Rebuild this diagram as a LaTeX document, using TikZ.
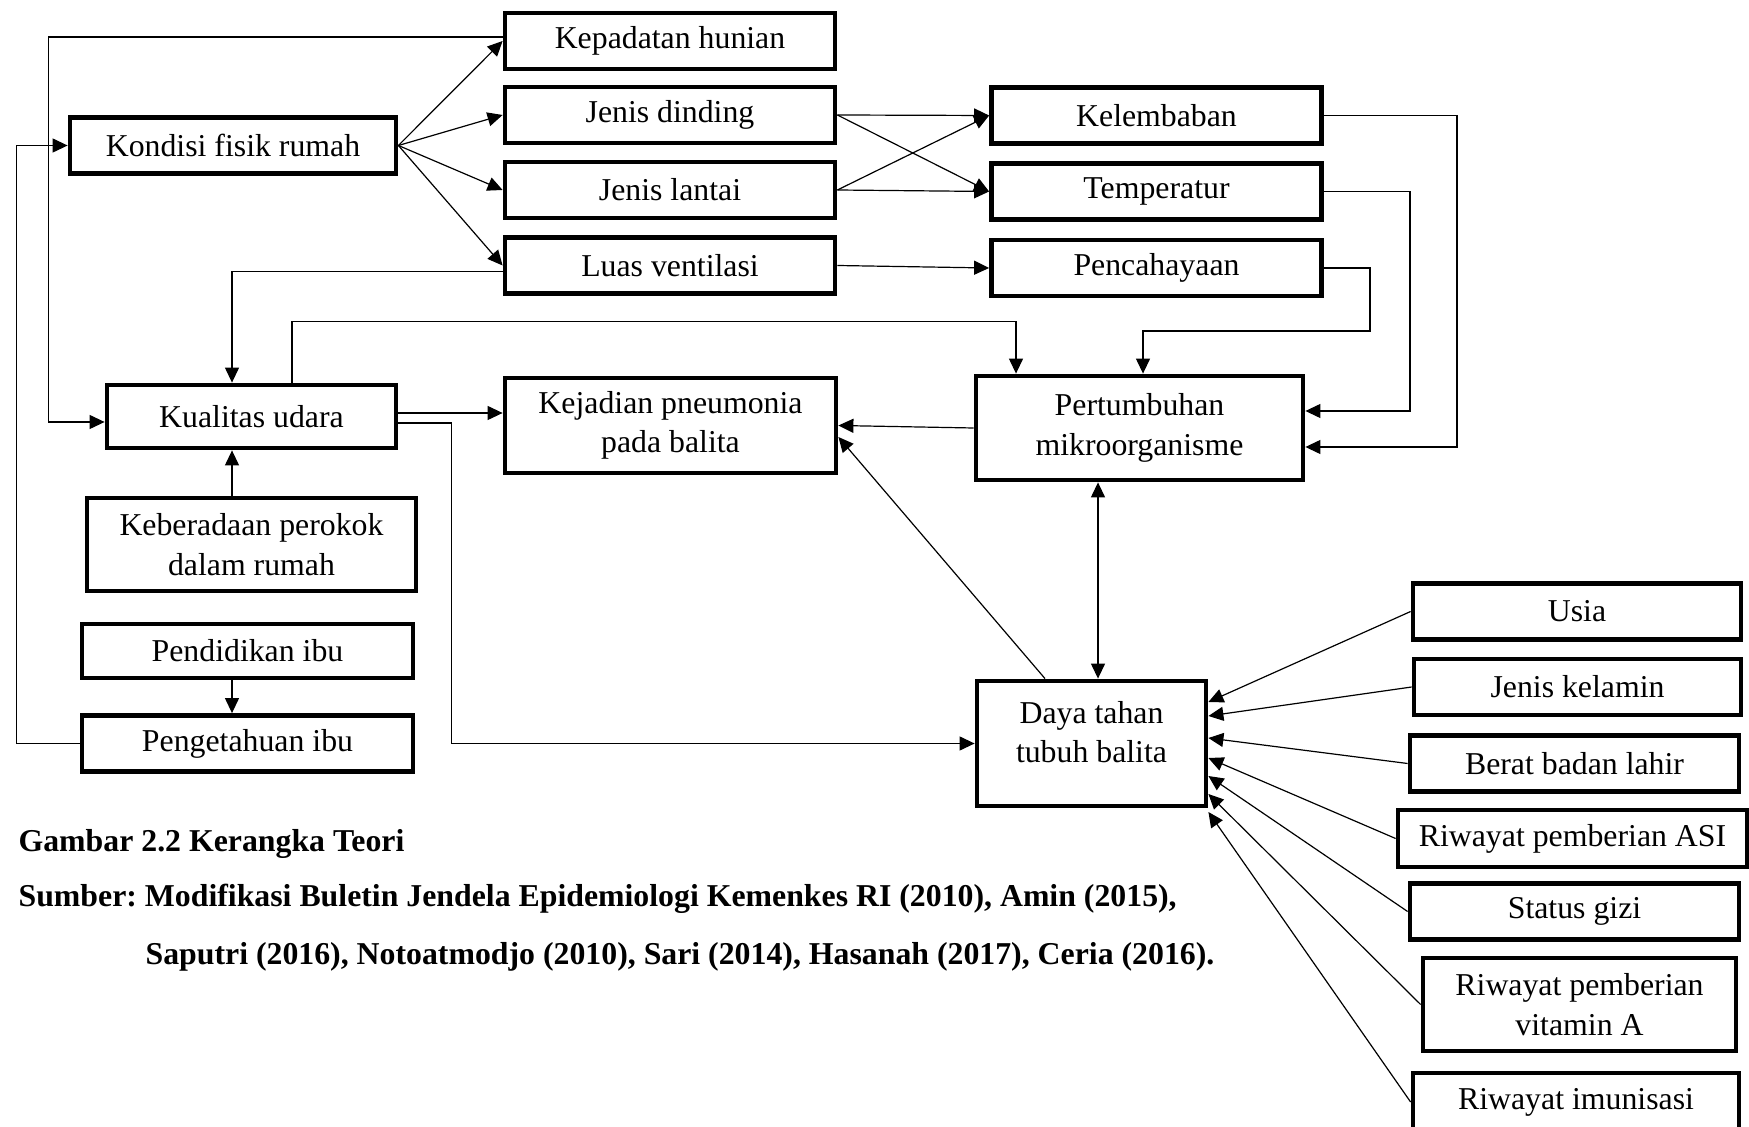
\documentclass[tikz,border=0pt]{standalone}
\usepackage{fontspec}
\setmainfont{Liberation Serif}
\usetikzlibrary{arrows.meta}
\frenchspacing

\begin{document}
\begin{tikzpicture}[x=0.5pt,y=-0.5pt,line width=0.6pt,
	>={Triangle[length=7.5pt,width=7pt]},
	box/.style={draw,line width=2.4pt,align=center,inner sep=0pt,
		minimum width=165pt,minimum height=28pt,
		font=\fontsize{15.9}{19.8}\selectfont},
	caption/.style={anchor=west,inner sep=0pt,
		font=\fontsize{15.9}{19.8}\selectfont\bfseries}]
	\useasboundingbox (0,0) rectangle (1749,1127);

	% kondisi rumah
	\node[box,minimum width=163pt] (kondisi) at (233,145.5) {Kondisi fisik rumah};
	\node[box] (kepadatan) at (670,41) {Kepadatan hunian};
	\node[box] (dinding) at (670,115) {Jenis dinding};
	\node[box] (lantai) at (670,190) {Jenis lantai};
	\node[box] (ventilasi) at (670,265.5) {Luas ventilasi};
	\node[box] (kelembaban) at (1156.5,115.5) {Kelembaban};
	\node[box] (temperatur) at (1156.5,191.5) {Temperatur};
	\node[box] (pencahayaan) at (1156.5,268) {Pencahayaan};

	% tengah
	\node[box,minimum width=144.5pt,minimum height=31.5pt] (kualitas) at (251.5,416.5) {Kualitas udara};
	\node[box,minimum width=165.5pt,minimum height=47.5pt] (kejadian) at (670.5,425.5) {Kejadian pneumonia\\pada balita};
	\node[box,minimum width=163.5pt,minimum height=52pt] (pertumbuhan) at (1139.5,428) {Pertumbuhan\\mikroorganisme};
	\node[box,minimum width=164.5pt,minimum height=46.5pt] (perokok) at (251.5,544.5) {Keberadaan perokok\\dalam rumah};
	\node[box,minimum width=165.5pt,minimum height=27pt] (pendidikan) at (247.5,651) {Pendidikan ibu};
	\node[box,minimum width=165.5pt] (pengetahuan) at (247.5,743.5) {Pengetahuan ibu};
	\node[box,minimum width=114.5pt,minimum height=62.5pt,text depth=11.5pt] (daya) at (1091.5,743.5) {Daya tahan\\tubuh balita};

	% faktor balita
	\node[box,minimum width=164pt] (usia) at (1577,611.5) {Usia};
	\node[box,minimum width=163.5pt] (kelamin) at (1577.5,687) {Jenis kelamin};
	\node[box,minimum width=164.5pt] (berat) at (1574.5,763.5) {Berat badan lahir};
	\node[box,minimum width=174.5pt,minimum height=28.5pt] (asi) at (1572.5,838.5) {Riwayat pemberian ASI};
	\node[box,minimum width=164.5pt] (gizi) at (1574.5,911.5) {Status gizi};
	\node[box,minimum width=156.5pt,minimum height=46.5pt] (vitamina) at (1579.5,1004.5) {Riwayat pemberian\\vitamin A};
	\node[box,minimum width=163pt,minimum height=29pt] (imunisasi) at (1576,1102) {Riwayat imunisasi};

	% panah
	\foreach \n in {kepadatan,dinding,lantai,ventilasi}
		\draw[->] (kondisi.east) -- (\n.west);
	\foreach \a in {dinding,lantai}
		\foreach \b in {kelembaban,temperatur}
			\draw[->] (\a.east) -- (\b.west);
	\draw[->] (ventilasi.east) -- (pencahayaan.west);
	\draw[->] (kelembaban.east) -- ++(133,0) |- ([yshift=-9.5pt]pertumbuhan.east);
	\draw[->] (temperatur.east) -- ++(86,0) |- ([yshift=8.5pt]pertumbuhan.east);
	\draw[->] (pencahayaan.east) -- ++(46,0) -- ++(0,63) -| ([xshift=1.75pt]pertumbuhan.north);
	\draw[->] ([xshift=20.25pt]kualitas.north) -- ++(0,-61) -| ([xshift=-61.75pt]pertumbuhan.north);
	\draw[->] ([yshift=-3pt]ventilasi.west) -| ([xshift=-9.75pt]kualitas.north);
	\draw[->] ([yshift=2pt]kepadatan.west) -- ++(-454,0) |- ([yshift=-2.75pt]kualitas.west);
	\draw[->] (pengetahuan.west) -- ++(-63,0) |- (kondisi.west);
	\draw[->] ([xshift=-7.75pt]pendidikan.south) -- ([xshift=-7.75pt]pengetahuan.north);
	\draw[->] ([xshift=-9.75pt]perokok.north) -- ([xshift=-9.75pt]kualitas.south);
	\draw[->] ([yshift=1.75pt]kualitas.east) -- ([yshift=6.25pt]kejadian.west);
	\draw[->] ([yshift=-3.25pt]kualitas.east) -- ++(53,0) |- (daya.west);
	\draw[->] (pertumbuhan.west) -- (kejadian.east);
	\draw[->] ([xshift=-23.25pt]daya.north) -- ([yshift=-5.75pt]kejadian.east);
	\draw[<->] ([xshift=3.25pt]daya.north) -- ([xshift=-20.75pt]pertumbuhan.south);
	\foreach \n/\s in {usia/20.75,kelamin/13.75,berat/2.75,asi/-7.25,gizi/-16.25,vitamina/-25.25,imunisasi/-34.25}
		\draw[->] (\n.west) -- ([yshift=\s pt]daya.east);

	% keterangan
	\node[caption] (gambar) at (18,844) {Gambar 2.2 Kerangka Teori};
	\node[caption] (sumber) at (18,899) {Sumber: Modifikasi Buletin Jendela Epidemiologi Kemenkes RI (2010), Amin (2015),};
	\node[caption] (sumber2) at (145,957) {Saputri (2016), Notoatmodjo (2010), Sari (2014), Hasanah (2017), Ceria (2016).};
\end{tikzpicture}
\end{document}
